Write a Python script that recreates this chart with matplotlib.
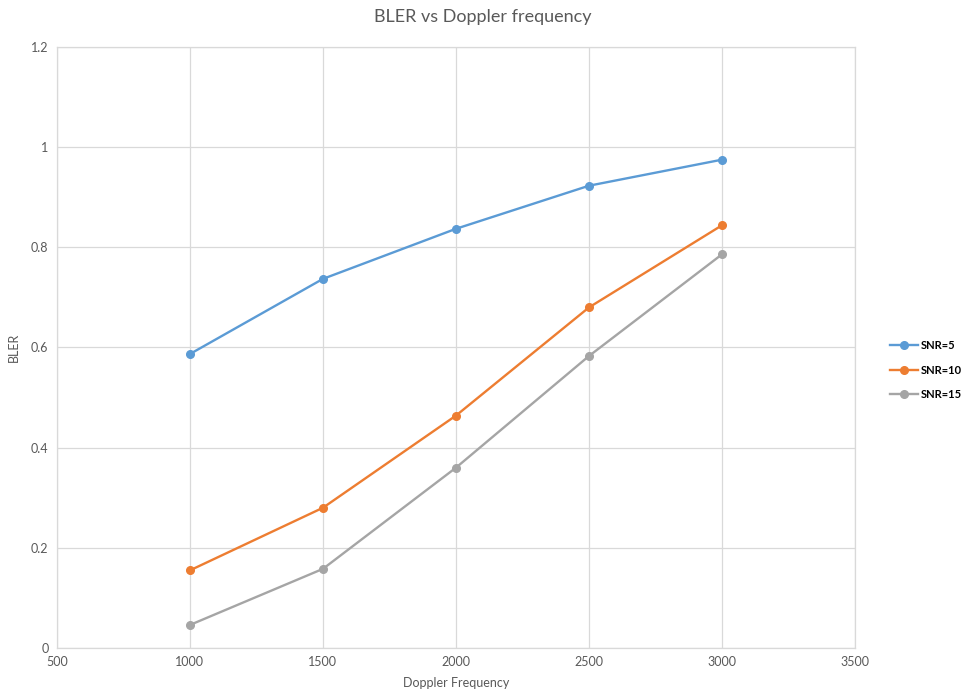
import matplotlib.pyplot as plt

# Datos de BLER para cada SNR en función de la frecuencia Doppler
doppler = [1000, 1500, 2000, 2500, 3000]
bler_snr5 = [0.587, 0.737, 0.837, 0.923, 0.975]
bler_snr10 = [0.155, 0.280, 0.464, 0.680, 0.844]
bler_snr15 = [0.046, 0.158, 0.360, 0.583, 0.786]

series = [
    ("SNR=5", bler_snr5, "#5B9BD5"),
    ("SNR=10", bler_snr10, "#ED7D31"),
    ("SNR=15", bler_snr15, "#A5A5A5"),
]

plt.rcParams['font.family'] = ['Lato', 'DejaVu Sans']

fig = plt.figure(figsize=(9.65, 6.92), dpi=100)
ax = fig.add_axes([0.059, 0.0636, 0.827, 0.8685])

for nombre, valores, color in series:
    ax.plot(doppler, valores, color=color, linewidth=1.7, marker='o',
            markersize=5.5, label=nombre)

ax.set_xlim(500, 3500)
ax.set_ylim(0, 1.2)
ax.set_xticks([500, 1000, 1500, 2000, 2500, 3000, 3500])
ax.set_yticks([0, 0.2, 0.4, 0.6, 0.8, 1.0, 1.2])
ax.set_yticklabels(['0', '0.2', '0.4', '0.6', '0.8', '1', '1.2'])

ax.grid(True, color='#d9d9d9', linewidth=0.9)
ax.set_axisbelow(True)
for spine in ax.spines.values():
    spine.set_color('#d9d9d9')
    spine.set_linewidth(0.9)
ax.tick_params(length=0, labelsize=9, labelcolor='#595959', pad=6)

fig.suptitle('BLER vs Doppler frequency', x=0.5, y=0.976, va='center',
             fontsize=13, color='#595959')
ax.set_xlabel('Doppler Frequency', fontsize=9, color='#595959', labelpad=6)
ax.set_ylabel('BLER', fontsize=9, color='#595959', labelpad=8)

# Leyenda a la derecha del área de trazado
handles, labels = ax.get_legend_handles_labels()
leg = fig.legend(handles, labels, loc='center left',
                 bbox_to_anchor=(0.922, 0.465), frameon=False,
                 borderpad=0, borderaxespad=0, handlelength=2.5,
                 handletextpad=0.3, labelspacing=1.2, fontsize=8)
for texto in leg.get_texts():
    texto.set_fontweight('bold')
    texto.set_color('#000000')

fig.savefig('out.png', dpi=100)
